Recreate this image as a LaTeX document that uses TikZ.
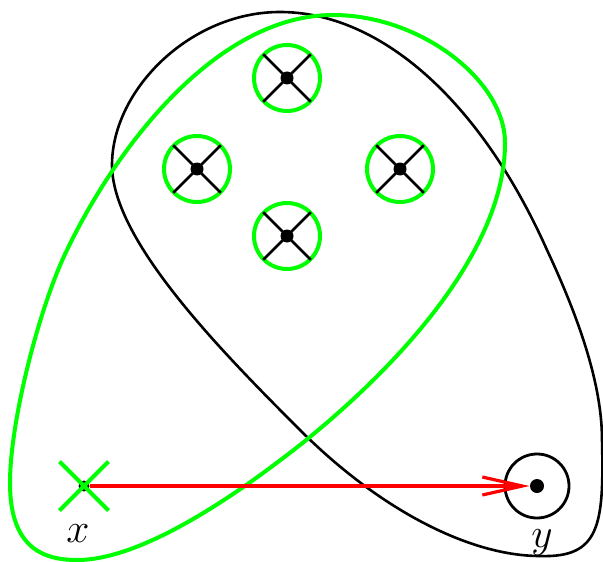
\documentclass[tikz,border=0pt]{standalone}
\usetikzlibrary{positioning,shapes.misc,arrows.meta}

\definecolor{brightgreen}{RGB}{0,255,0}
\definecolor{brightred}{RGB}{255,0,0}

\tikzset{
  pt/.style={circle,fill,inner sep=0pt,minimum size=6.5pt},
  ring/.style={circle,draw=brightgreen,line width=2pt,inner sep=0pt,minimum size=33pt},
  blackring/.style={circle,draw,line width=1.4pt,inner sep=0pt,minimum size=32pt},
  crossmark/.style={cross out,draw,line width=1.3pt,inner sep=0pt,minimum size=22.5pt},
  greencross/.style={crossmark,draw=brightgreen,line width=2pt},
  lab/.style={inner sep=0pt,font=\fontsize{20}{22}\selectfont},
  arrowline/.style={draw=brightred,line width=1.6pt,-{Straight Barb[length=20pt,width=9pt,line width=1.6pt]}}
}

\begin{document}
\begin{tikzpicture}[x=0.5pt,y=-0.5pt]
        \useasboundingbox (0,0) rectangle (603,561);

        % the two loops
        \draw[line width=1.3pt] (280,12)
        .. controls (190,12) and (112,90) .. (112,165)
        .. controls (112,240) and (220,350) .. (300,430)
        .. controls (380,510) and (470,556) .. (540,556)
        .. controls (600,558) and (604,525) .. (602,440)
        .. controls (602,380) and (575,310) .. (547,250)
        .. controls (480,100) and (380,12) .. cycle;
        \draw[brightgreen,line width=2pt] (333,15)
        .. controls (220,15) and (120,140) .. (67,250)
        .. controls (40,305) and (10,420) .. (10,483)
        .. controls (10,545) and (40,560) .. (77,560)
        .. controls (140,560) and (230,500) .. (300,445)
        .. controls (400,365) and (505,250) .. (505,143)
        .. controls (505,80) and (420,15) .. cycle;

        \node (p1) at (287,78) [pt] {};
        \node (p2) at (197,169) [pt] {};
        \node (p3) at (400,169) [pt] {};
        \node (p4) at (287,236) [pt] {};
        \node at (p1) [ring] {};
        \node at (p2) [ring] {};
        \node at (p3) [ring] {};
        \node at (p4) [ring] {};
        \node at (p1) [crossmark] {};
        \node at (p2) [crossmark] {};
        \node at (p3) [crossmark] {};
        \node at (p4) [crossmark] {};

        \node (x) at (84,486) [pt,minimum size=5.5pt] {};
        \node at (x) [greencross] {};
        \node (y) at (537,486) [pt,minimum size=7pt] {};
        \node at (y) [blackring] {};

        \node (xlab) [lab,below=16pt of x,xshift=-3pt] {$x$};
        \node (ylab) [lab,below=18pt of y,xshift=2.5pt] {$y$};

        \draw[arrowline] (x) -- (y);
\end{tikzpicture}
\end{document}
